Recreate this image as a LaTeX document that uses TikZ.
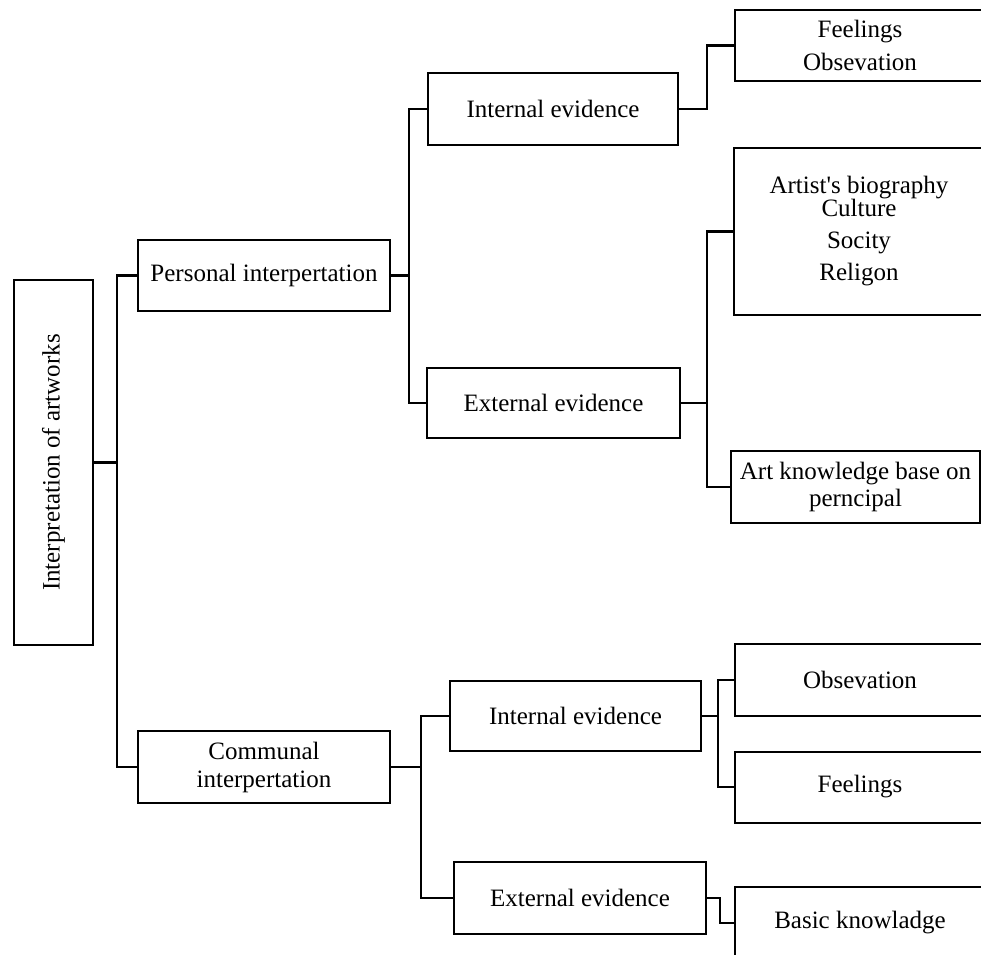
\documentclass[tikz,border=0pt]{standalone}
\usepackage{fontspec}
\setmainfont{Liberation Serif}
\usetikzlibrary{positioning}

\begin{document}
\begin{tikzpicture}[
  x=1pt, y=-1pt,
  box/.style={rectangle, draw, line width=2pt, minimum width=252pt, minimum height=71pt, align=center, inner sep=2pt},
  leaf/.style={box, minimum width=250pt, anchor=west},
  edge/.style={line width=2.4pt},
  font=\fontsize{25}{30}\selectfont
]
\useasboundingbox (0,0) rectangle (981,954);
\clip (0,0) rectangle (981,954);

\node[box, minimum width=79pt, minimum height=365pt] (root) at (53.5,462.5) {\rotatebox{90}{Interpretation of artworks}};

\node[box] (pers) at (264,275.5) {Personal interpertation};
\node[box, minimum height=72pt] (comm) at (264,767) {Communal\\[-2pt]interpertation};

\node[box, minimum width=250pt, minimum height=72pt] (pint) at (553,109) {Internal evidence};
\node[box, minimum width=253pt, minimum height=70pt] (pext) at (553.5,403) {External evidence};
\node[box, minimum width=251pt, minimum height=70pt] (cint) at (575.5,716) {Internal evidence};
\node[box, minimum height=72pt] (cext) at (580,898) {External evidence};

\node[leaf] (pfeel) at (734,45.5) {Feelings\\[3pt]Obsevation};
\node[leaf, minimum height=167pt] (bio) at (733,231.5) {Artist\textquotesingle s biography\\[-7pt]Culture\\[2pt]Socity\\[2pt]Religon};
\node[leaf, minimum width=249pt, minimum height=72pt] (know) at (730,487) {Art knowledge base on\\[-3pt]perncipal};
\node[leaf, minimum height=72pt] (cobs) at (734,680) {Obsevation};
\node[leaf] (cfeel) at (734,787) {Feelings};
\node[leaf, minimum height=72pt] (basic) at (734,923) {Basic knowladge};

\draw[edge] (root.east) -- ++(23,0) coordinate (r1) |- (pers.west);
\draw[edge] (r1) |- (comm.west);

\draw[edge] (pers.east) -- ++(18,0) coordinate (p1) |- (pint.west);
\draw[edge] (p1) |- (pext.west);
\draw[edge] (pint.east) -- ++(28,0) |- (pfeel.west);
\draw[edge] (pext.east) -- ++(26,0) coordinate (e1) |- (bio.west);
\draw[edge] (e1) |- (know.west);

\draw[edge] (comm.east) -- ++(30,0) coordinate (c1) |- (cint.west);
\draw[edge] (c1) |- (cext.west);
\draw[edge] (cint.east) -- ++(16,0) coordinate (i1) |- (cobs.west);
\draw[edge] (i1) |- (cfeel.west);
\draw[edge] (cext.east) -- ++(13,0) |- (basic.west);
\end{tikzpicture}
\end{document}
